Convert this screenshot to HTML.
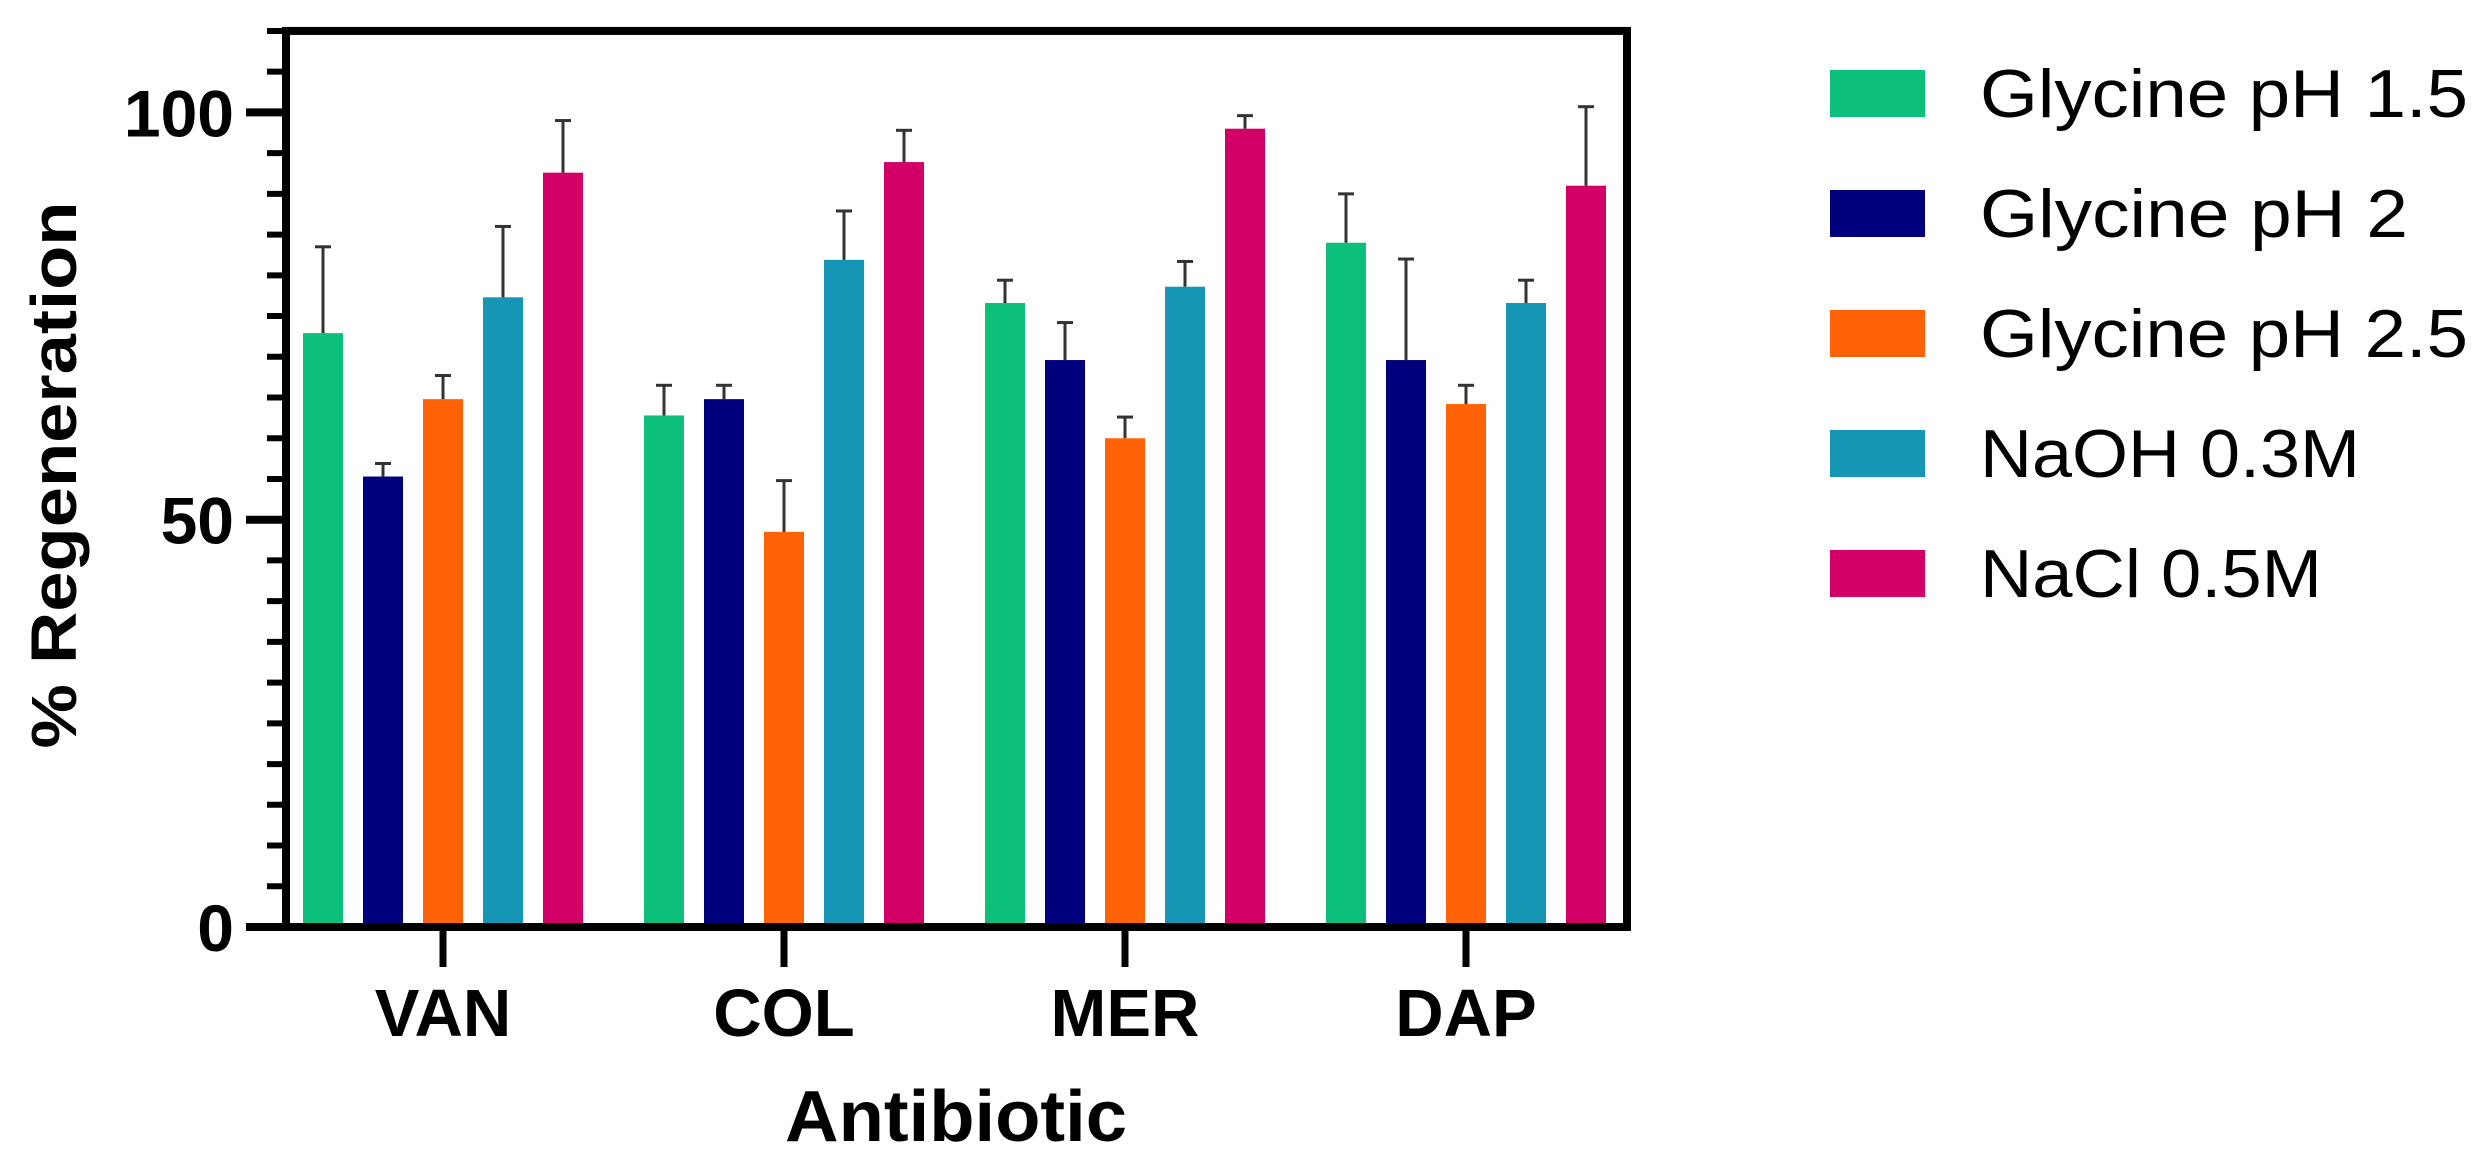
<!DOCTYPE html>
<html><head><meta charset="utf-8"><style>
html,body{margin:0;padding:0;background:#fff;}
svg{display:block;font-family:"Liberation Sans",Arial,sans-serif;}
</style></head><body>
<svg id="chart" width="2485" height="1174" viewBox="0 0 2485 1174" xmlns="http://www.w3.org/2000/svg">
<g id="plot"></g>
<g id="legend"></g>
</svg>
<script>
const categories = ["VAN","COL","MER","DAP"];
const seriesNames = ["Glycine pH 1.5","Glycine pH 2","Glycine pH 2.5","NaOH 0.3M","NaCl 0.5M"];
const seriesColors = ["#0cbf7b","#00007f","#ff6207","#1596b4","#d20066"];
const glycine15 = [72.9, 62.8, 76.6, 84.0];
const glycine2  = [55.3, 64.8, 69.6, 69.6];
const glycine25 = [64.8, 48.5, 60.0, 64.2];
const naoh      = [77.3, 81.9, 78.6, 76.6];
const nacl      = [92.6, 93.9, 98.0, 91.0];
const glycine15Err = [10.6, 3.7, 2.8, 6.0];
const glycine2Err  = [1.6, 1.7, 4.6, 12.4];
const glycine25Err = [2.9, 6.3, 2.6, 2.3];
const naohErr      = [8.7, 6.0, 3.1, 2.8];
const naclErr      = [6.4, 3.9, 1.6, 9.7];
const yTicks = [0, 50, 100];
const yMax = 110;

const NS = "http://www.w3.org/2000/svg";
const values = [glycine15, glycine2, glycine25, naoh, nacl];
const errs = [glycine15Err, glycine2Err, glycine25Err, naohErr, naclErr];
const x0 = 286, x1 = 1627, yZero = 927, pxPerUnit = 8.146;
const y = v => yZero - v * pxPerUnit;
const groupX = i => 443 + i * 341;
const barX = (i, s) => groupX(i) + (s - 2) * 60 - 20;
const plot = document.getElementById('plot');
function mk(tag, attrs, parent) {
  const e = document.createElementNS(NS, tag);
  for (const k in attrs) e.setAttribute(k, attrs[k]);
  parent.appendChild(e);
  return e;
}
values.forEach((arr, s) => {
  arr.forEach((v, i) => {
    const bx = barX(i, s);
    const r = mk('rect', {x: bx, y: y(v), width: 40, height: yZero - y(v), fill: seriesColors[s]}, plot);
    
    
    const top = v + errs[s][i];
    const eg = mk('g', {stroke: '#333', 'stroke-width': 3}, plot);
    
    
    mk('line', {x1: bx + 20, x2: bx + 20, y1: y(v), y2: y(top)}, eg);
    mk('line', {x1: bx + 12, x2: bx + 28, y1: y(top), y2: y(top)}, eg);
  });
});
const frame = mk('rect', {x: x0, y: y(yMax), width: x1 - x0, height: yZero - y(yMax), fill: 'none', stroke: '#000', 'stroke-width': 8}, plot);


for (let v = 0; v <= yMax; v += 5) {
  const major = yTicks.includes(v);
  const t = mk('line', {x1: major ? 246 : 267, x2: x0, y1: y(v), y2: y(v), stroke: '#000', 'stroke-width': major ? 8 : 6}, plot);
  
  
}
yTicks.forEach(v => {
  const t = mk('text', {x: 234, y: y(v) + 24, 'text-anchor': 'end', 'font-size': 66, 'font-weight': 'bold'}, plot);
  
  
  t.textContent = v;
});
categories.forEach((c, i) => {
  const t = mk('line', {x1: groupX(i), x2: groupX(i), y1: yZero, y2: 967, stroke: '#000', 'stroke-width': 7}, plot);
  
  
  const l = mk('text', {x: groupX(i), y: 1036, 'text-anchor': 'middle', 'font-size': 67, 'font-weight': 'bold'}, plot);
  
  
  l.textContent = c;
});
const xt = mk('text', {x: 956, y: 1141, 'text-anchor': 'middle', 'font-size': 72, 'font-weight': 'bold', textLength: 342, lengthAdjust: 'spacingAndGlyphs'}, plot);


xt.textContent = 'Antibiotic';
const yt = mk('text', {x: 0, y: 0, 'text-anchor': 'middle', 'font-size': 64, 'font-weight': 'bold', textLength: 547, lengthAdjust: 'spacingAndGlyphs', transform: 'translate(76,475) rotate(-90)'}, plot);


yt.textContent = '% Regeneration';
const legend = document.getElementById('legend');
const legendWidths = [488, 428, 488, 380, 342];
seriesNames.forEach((n, s) => {
  const g = mk('g', {}, legend);
  
  
  const cy = 93 + s * 120;
  mk('rect', {x: 1830, y: cy - 23, width: 95, height: 47, fill: seriesColors[s]}, g);
  const t = mk('text', {x: 1980, y: cy + 24, 'font-size': 68, textLength: legendWidths[s], lengthAdjust: 'spacingAndGlyphs'}, g);
  t.textContent = n;
});
</script>
</body></html>
